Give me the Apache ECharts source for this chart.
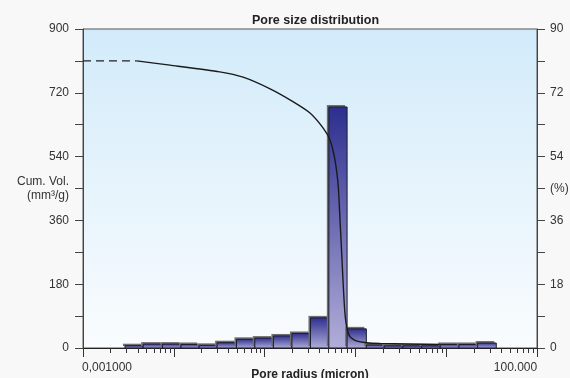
<!DOCTYPE html>
<html>
<head>
<meta charset="utf-8">
<script src="https://cdn.jsdelivr.net/npm/echarts@6/dist/echarts.min.js"></script>
<style>
html,body{margin:0;padding:0;background:#f8f8f8;}
#c{width:570px;height:378px;}
</style>
</head>
<body>
<div id="c"></div>
<script>
// Histogram bin edges (pore radius, micron) and heights (Cum. Vol. mm3/g scale)
var binEdges = [0.0029, 0.0046, 0.0075, 0.012, 0.019, 0.030, 0.049, 0.078, 0.125, 0.2, 0.32, 0.51, 0.81, 1.32, 2.08, 3.34, 5.37, 8.6, 13.8, 22.2, 35.6];
var binHeights = [6.5, 11, 11, 10, 7.5, 15, 24.5, 28, 34, 41, 85, 680, 54, 8.5, 6, 6, 6, 10, 10, 14];
// Cumulative curve
var curveX = [0.0039, 0.0091, 0.032, 0.058, 0.115, 0.205, 0.316, 0.44, 0.525, 0.596, 0.648, 0.677, 0.706, 0.736, 0.767, 0.801, 0.871, 1.03, 1.33, 1.87, 8.5];
var curveY = [810, 798, 779, 764, 731, 695, 663, 621, 587, 530, 455, 361, 268, 173, 99, 60, 32, 20, 15, 13, 10];
// Dashed extension
var dashX = [0.001, 0.0039];
var dashY = [810, 810];
// Axis labels
var leftLabels = {0:'0', 180:'180', 360:'360', 540:'540', 720:'720', 900:'900', 450:'Cum. Vol.\n(mm³/g)'};
var rightLabels = {0:'0', 18:'18', 36:'36', 54:'54', 72:'72', 90:'90', 45:'(%)'};
var xMinLabel = '0,001000';
var xMaxLabel = '100.000';
var minorTickVals = [];
[0.001, 0.01, 0.1, 1, 10].forEach(function (d) {
  [2,3,4,5,6,7,8,9].forEach(function (m) { minorTickVals.push(+(d*m).toPrecision(3)); });
});

var barData = binHeights.map(function (h, i) { return [binEdges[i], binEdges[i+1], h]; });
var chart = echarts.init(document.getElementById('c'));
var font = 'Liberation Sans, Arial, sans-serif';
chart.setOption({
  backgroundColor: '#f8f8f8',
  animation: false,
  title: {
    text: 'Pore size distribution', left: 247, top: 9,
    textStyle: {fontSize: 12.5, fontWeight: 'bold', color: '#222', fontFamily: font}
  },
  grid: {
    left: 83, right: 33, top: 29, bottom: 30, show: true,
    outerBoundsMode: 'none', containLabel: false,
    borderColor: '#555', borderWidth: 1,
    backgroundColor: new echarts.graphic.LinearGradient(0, 0, 0, 1, [
      {offset: 0, color: '#d2ebfa'}, {offset: 1, color: '#fafcfe'}])
  },
  xAxis: {
    type: 'log', logBase: 10, min: 0.001, max: 100,
    name: 'Pore radius (micron)', nameLocation: 'middle', nameGap: 21, nameMoveOverlap: false,
    nameTextStyle: {fontSize: 12, fontWeight: 'bold', color: '#222', fontFamily: font, verticalAlign: 'top'},
    axisLine: {lineStyle: {color: '#222', width: 1.2}},
    axisTick: {length: 9, lineStyle: {color: '#333'}},
    splitLine: {show: false},
    axisLabel: {
      margin: 14, fontSize: 12, color: '#333', fontFamily: font,
      formatter: function (v) {
        if (Math.abs(Math.log10(v) + 3) < 1e-6) return '{l|' + xMinLabel + '}';
        if (Math.abs(Math.log10(v) - 2) < 1e-6) return '{r|' + xMaxLabel + '}';
        return '';
      },
      rich: {
        l: {fontSize: 12, color: '#333', fontFamily: font, padding: [0, 0, 0, 48]},
        r: {fontSize: 12, color: '#333', fontFamily: font, padding: [0, 43, 0, 0]}
      }
    }
  },
  yAxis: [{
    type: 'value', min: 0, max: 900, interval: 90,
    axisLine: {show: true, lineStyle: {color: '#444'}},
    axisTick: {show: true, length: 8, lineStyle: {color: '#444'}},
    splitLine: {show: false},
    axisLabel: {
      margin: 14, fontSize: 12, color: '#333', fontFamily: font, lineHeight: 14,
      formatter: function (v) { return leftLabels[v] !== undefined ? leftLabels[v] : ''; }
    }
  }, {
    type: 'value', min: 0, max: 90, interval: 9, position: 'right',
    axisLine: {show: true, lineStyle: {color: '#444'}},
    axisTick: {show: true, length: 8, lineStyle: {color: '#444'}},
    splitLine: {show: false},
    axisLabel: {
      margin: 13, fontSize: 12, color: '#333', fontFamily: font,
      formatter: function (v) { return rightLabels[v] !== undefined ? rightLabels[v] : ''; }
    }
  }],
  series: [{
    type: 'custom', name: 'bars', z: 2,
    data: barData,
    encode: {x: [0, 1], y: 2},
    renderItem: function (params, api) {
      var p0 = api.coord([api.value(0), api.value(2)]);
      var p1 = api.coord([api.value(1), 0]);
      var w = p1[0] - p0[0], h = p1[1] - p0[1];
      return {
        type: 'group',
        children: [{
          type: 'rect',
          shape: {x: p0[0] - 2, y: p0[1] - 2, width: w, height: h},
          style: {fill: '#6f6f6f'}
        }, {
          type: 'rect',
          shape: {x: p0[0], y: p0[1], width: w, height: h},
          style: {
            fill: new echarts.graphic.LinearGradient(0, 0, 0, 1, [
              {offset: 0, color: '#2c2e8e'}, {offset: 1, color: '#b2aed9'}]),
            stroke: '#1c1c30', lineWidth: 1
          }
        }]
      };
    }
  }, {
    type: 'custom', name: 'minorTicks', z: 3, silent: true,
    data: minorTickVals.map(function (v) { return [v]; }),
    encode: {x: 0},
    renderItem: function (params, api) {
      var p = api.coord([api.value(0), 0]);
      return {
        type: 'line',
        shape: {x1: Math.round(p[0]) + 0.5, y1: p[1], x2: Math.round(p[0]) + 0.5, y2: p[1] + 5},
        style: {stroke: '#333', lineWidth: 1}
      };
    }
  }, {
    type: 'line', z: 4, showSymbol: false, symbol: 'none',
    smooth: 0.2,
    lineStyle: {color: '#1a1a1a', width: 1.4},
    data: curveX.map(function (x, i) { return [x, curveY[i]]; })
  }, {
    type: 'line', z: 4, showSymbol: false, symbol: 'none',
    lineStyle: {color: '#222', width: 1.4, type: [8, 5]},
    data: dashX.map(function (x, i) { return [x, dashY[i]]; })
  }]
});
</script>
</body>
</html>
